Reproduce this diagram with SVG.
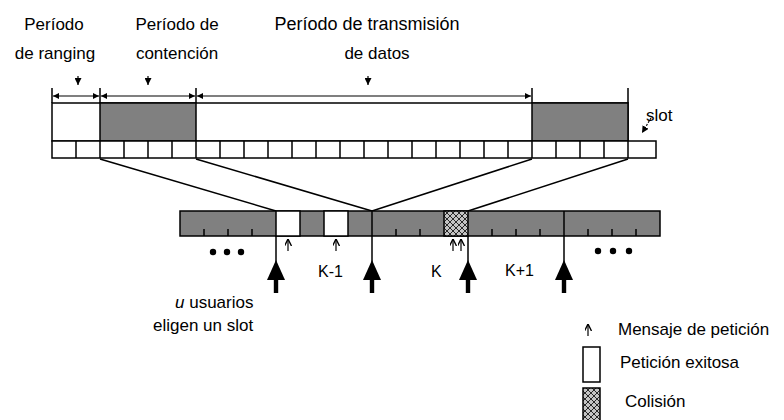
<svg xmlns="http://www.w3.org/2000/svg" width="784" height="420" viewBox="0 0 784 420">
<defs>
<style>
text{font-family:"Liberation Sans",Arial,sans-serif;font-size:17px;fill:#000}
.ln{stroke:#000;stroke-width:1.5;fill:none}
.thin{stroke:#000;stroke-width:1.2;fill:none}
.box{stroke:#000;stroke-width:1.5}
.gray{fill:#808080}
.white{fill:#fff}
.hatch{fill:url(#xh)}
.big{fill:#000}
</style>
<pattern id="xh" patternUnits="userSpaceOnUse" width="6" height="6">
<rect width="6" height="6" fill="#c4c4c4"/>
<path d="M0,0 L6,6 M6,0 L0,6" stroke="#000" stroke-width="0.8"/>
</pattern>
<marker id="ah" viewBox="0 0 8 8" refX="8" refY="4" markerWidth="6" markerHeight="6" markerUnits="userSpaceOnUse" orient="auto-start-reverse">
<path d="M0,0 L8,4 L0,8 z" fill="#000"/>
</marker>
<marker id="sm" viewBox="0 0 8 8" refX="8" refY="4" markerWidth="7" markerHeight="7" markerUnits="userSpaceOnUse" orient="auto">
<path d="M0,0 L8,4 L0,8" fill="none" stroke="#000" stroke-width="1.6"/>
</marker>
<marker id="dn" viewBox="0 0 8 8" refX="8" refY="4" markerWidth="7" markerHeight="7" markerUnits="userSpaceOnUse" orient="auto">
<path d="M0,0 L8,4 L0,8 z" fill="#000"/>
</marker>
<g id="bigArrow">
<line x1="0" y1="0" x2="0" y2="26" class="ln"/>
<polygon points="-9,44 0,24 9,44" class="big"/>
<rect x="-2.2" y="43" width="4.4" height="14" class="big"/>
</g>
<g id="smallArrow">
<line x1="0" y1="14" x2="0" y2="2" class="thin" marker-end="url(#sm)"/>
</g>
</defs>

<g id="labels-top">
<text x="54" y="30" text-anchor="middle">Período</text>
<text x="55" y="59" text-anchor="middle">de ranging</text>
<text x="177" y="30" text-anchor="middle">Período de</text>
<text x="177" y="59" text-anchor="middle">contención</text>
<text x="367" y="30" text-anchor="middle" style="font-size:18px">Período de transmisión</text>
<text x="377" y="59" text-anchor="middle">de datos</text>
<line x1="78" y1="76" x2="78" y2="85" class="thin" marker-end="url(#dn)"/>
<line x1="148" y1="76" x2="148" y2="85" class="thin" marker-end="url(#dn)"/>
<line x1="368" y1="76" x2="368" y2="85" class="thin" marker-end="url(#dn)"/>
</g>

<g id="period-bar">
<rect x="52" y="103" width="576" height="38" class="box white"/>
<rect x="100" y="103" width="96" height="38" class="box gray"/>
<rect x="532" y="103" width="96" height="38" class="box gray"/>
<path d="M52,88 V103 M100,88 V103 M196,88 V103 M532,88 V103 M628,88 V103" class="ln"/>
<line x1="53" y1="96" x2="99" y2="96" class="thin" marker-start="url(#ah)" marker-end="url(#ah)"/>
<line x1="101" y1="96" x2="195" y2="96" class="thin" marker-start="url(#ah)" marker-end="url(#ah)"/>
<line x1="197" y1="96" x2="531" y2="96" class="thin" marker-start="url(#ah)" marker-end="url(#ah)"/>
</g>

<g id="slot-row">
<rect x="52" y="141" width="604" height="17" class="box white"/>
<path d="M76,141V158 M100,141V158 M124,141V158 M148,141V158 M172,141V158 M196,141V158 M220,141V158 M244,141V158 M268,141V158 M292,141V158 M316,141V158 M340,141V158 M364,141V158 M388,141V158 M412,141V158 M436,141V158 M460,141V158 M484,141V158 M508,141V158 M532,141V158 M556,141V158 M580,141V158 M604,141V158 M628,141V158" class="ln"/>
<text x="646" y="121">slot</text>
<line x1="651" y1="118" x2="642" y2="133" class="thin" stroke-dasharray="2,1.5" marker-end="url(#dn)"/>
</g>

<g id="connectors">
<line x1="100" y1="159" x2="276" y2="211" class="ln"/>
<line x1="196" y1="159" x2="372" y2="211" class="ln"/>
<line x1="532" y1="159" x2="372" y2="211" class="ln"/>
<line x1="628" y1="159" x2="468" y2="211" class="ln"/>
</g>

<g id="minislot-bar">
<rect x="180" y="211" width="480" height="25" class="box gray"/>
<rect x="276" y="211" width="24" height="25" class="box white"/>
<rect x="324" y="211" width="24" height="25" class="box white"/>
<rect x="444" y="211" width="24" height="25" class="box hatch"/>
<path d="M372,211V236 M564,211V236" class="ln"/>
<path d="M204,229V236 M228,229V236 M252,229V236 M396,229V236 M420,229V236 M492,229V236 M516,229V236 M540,229V236 M588,229V236 M612,229V236 M636,229V236" class="ln"/>
</g>

<g id="requests">
<use href="#smallArrow" x="288" y="237"/>
<use href="#smallArrow" x="336" y="237"/>
<use href="#smallArrow" x="453" y="237"/>
<use href="#smallArrow" x="461" y="237"/>
</g>

<g id="user-arrows">
<use href="#bigArrow" x="276" y="236"/>
<use href="#bigArrow" x="372" y="236"/>
<use href="#bigArrow" x="468" y="236"/>
<use href="#bigArrow" x="564" y="236"/>
</g>

<g id="frame-labels">
<circle cx="213" cy="252" r="3.2"/>
<circle cx="227" cy="252" r="3.2"/>
<circle cx="241" cy="252" r="3.2"/>
<circle cx="598" cy="251" r="3.2"/>
<circle cx="613" cy="251" r="3.2"/>
<circle cx="629" cy="251" r="3.2"/>
<text x="318" y="277" style="font-size:16px">K-1</text>
<text x="431" y="277" style="font-size:16px">K</text>
<text x="505" y="276" style="font-size:16px">K+1</text>
</g>

<g id="users-label">
<text x="175" y="308"><tspan font-style="italic">u</tspan>  usuarios</text>
<text x="153" y="331">eligen un slot</text>
</g>

<g id="legend">
<use href="#smallArrow" x="588" y="322"/>
<text x="618" y="335">Mensaje de petición</text>
<rect x="583" y="347" width="17" height="35" class="box white"/>
<text x="620" y="368">Petición exitosa</text>
<rect x="583" y="388" width="17" height="33" class="box hatch"/>
<text x="625" y="407">Colisión</text>
</g>
</svg>
